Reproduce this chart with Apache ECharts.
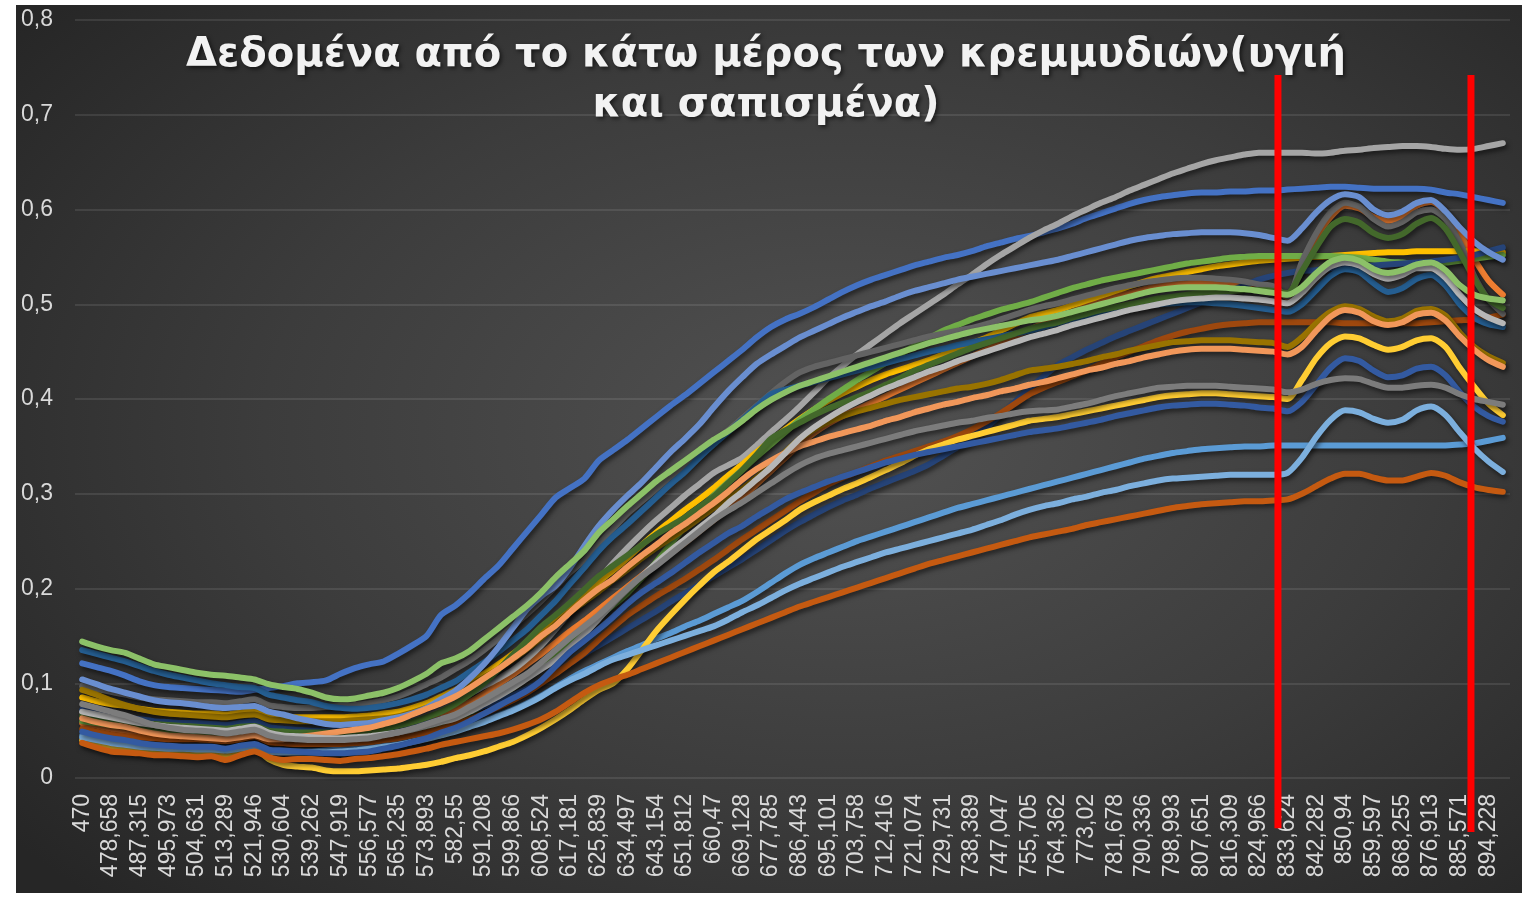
<!DOCTYPE html>
<html>
<head>
<meta charset="utf-8">
<title>Δεδομένα από το κάτω μέρος των κρεμμυδιών</title>
<script src="https://cdn.jsdelivr.net/npm/echarts@6.0.0/dist/echarts.min.js"></script>
<style>
    html, body {
        margin: 0;
        padding: 0;
        background: #fff;
    }
    #frame {
        position: absolute;
        left: 16px;
        top: 5px;
        width: 1506px;
        height: 888px;
        background: radial-gradient(ellipse 70% 75% at 55% 48%, #525252 0%, #3c3c3c 55%, #262626 100%);
    }
    #main {
        position: absolute;
        left: 0;
        top: 0;
        width: 1532px;
        height: 897px;
    }
</style>
</head>
<body>
<div id="frame"></div>
<div id="main"></div>
<script>
// wavelengths (nm), every second one is shown on the axis
var wavelengths = [
    '470', '474,329', '478,658', '482,987', '487,315', '491,644', '495,973', '500,302', '504,631', '508,96',
    '513,289', '517,617', '521,946', '526,275', '530,604', '534,933', '539,262', '543,591', '547,919', '552,248',
    '556,577', '560,906', '565,235', '569,564', '573,893', '578,221', '582,55', '586,879', '591,208', '595,537',
    '599,866', '604,195', '608,524', '612,852', '617,181', '621,51', '625,839', '630,168', '634,497', '638,826',
    '643,154', '647,483', '651,812', '656,141', '660,47', '664,799', '669,128', '673,457', '677,785', '682,114',
    '686,443', '690,772', '695,101', '699,43', '703,758', '708,087', '712,416', '716,745', '721,074', '725,403',
    '729,731', '734,06', '738,389', '742,718', '747,047', '751,376', '755,705', '760,034', '764,362', '768,691',
    '773,02', '777,349', '781,678', '786,007', '790,336', '794,664', '798,993', '803,322', '807,651', '811,98',
    '816,309', '820,638', '824,966', '829,295', '833,624', '837,953', '842,282', '846,611', '850,94', '855,269',
    '859,597', '863,926', '868,255', '872,584', '876,913', '881,242', '885,571', '889,9', '894,228', '898,557'
];

var blue = [
    0.121, 0.117, 0.113, 0.108, 0.102, 0.098, 0.096, 0.095, 0.094, 0.093,
    0.092, 0.091, 0.093, 0.095, 0.097, 0.100, 0.101, 0.103, 0.110, 0.116,
    0.120, 0.123, 0.131, 0.140, 0.150, 0.172, 0.182, 0.195, 0.210, 0.224,
    0.242, 0.260, 0.278, 0.296, 0.306, 0.316, 0.335, 0.346, 0.357, 0.369,
    0.381, 0.393, 0.404, 0.416, 0.428, 0.440, 0.452, 0.465, 0.476, 0.484,
    0.490, 0.497, 0.505, 0.513, 0.520, 0.526, 0.531, 0.536, 0.541, 0.545,
    0.549, 0.552, 0.556, 0.561, 0.565, 0.569, 0.572, 0.576, 0.580, 0.585,
    0.591, 0.596, 0.601, 0.606, 0.610, 0.613, 0.615, 0.617, 0.618, 0.618,
    0.619, 0.619, 0.620, 0.620, 0.621, 0.622, 0.623, 0.624, 0.624, 0.623,
    0.622, 0.622, 0.622, 0.622, 0.621, 0.618, 0.616, 0.613, 0.610, 0.607
];
var orange = [
    0.058, 0.055, 0.052, 0.050, 0.047, 0.045, 0.044, 0.043, 0.042, 0.042,
    0.040, 0.042, 0.045, 0.039, 0.037, 0.036, 0.036, 0.036, 0.037, 0.038,
    0.040, 0.043, 0.047, 0.052, 0.058, 0.065, 0.072, 0.080, 0.089, 0.099,
    0.109, 0.120, 0.131, 0.143, 0.155, 0.166, 0.178, 0.190, 0.202, 0.214,
    0.226, 0.237, 0.248, 0.260, 0.272, 0.284, 0.296, 0.310, 0.324, 0.338,
    0.352, 0.364, 0.374, 0.382, 0.389, 0.396, 0.403, 0.410, 0.417, 0.424,
    0.431, 0.438, 0.445, 0.452, 0.459, 0.466, 0.473, 0.480, 0.486, 0.492,
    0.498, 0.503, 0.508, 0.512, 0.516, 0.519, 0.521, 0.522, 0.523, 0.523,
    0.522, 0.521, 0.519, 0.517, 0.507, 0.541, 0.570, 0.592, 0.604, 0.601,
    0.592, 0.588, 0.593, 0.604, 0.608, 0.597, 0.575, 0.548, 0.525, 0.510
];
var gray = [
    0.070, 0.066, 0.063, 0.060, 0.057, 0.054, 0.052, 0.051, 0.050, 0.050,
    0.048, 0.050, 0.052, 0.047, 0.045, 0.045, 0.045, 0.045, 0.046, 0.048,
    0.050, 0.053, 0.057, 0.062, 0.068, 0.075, 0.082, 0.089, 0.097, 0.105,
    0.114, 0.126, 0.140, 0.157, 0.175, 0.193, 0.210, 0.227, 0.243, 0.258,
    0.272, 0.285, 0.298, 0.310, 0.322, 0.330, 0.338, 0.351, 0.365, 0.378,
    0.392, 0.407, 0.422, 0.435, 0.447, 0.458, 0.469, 0.480, 0.490, 0.500,
    0.510, 0.521, 0.531, 0.542, 0.552, 0.561, 0.570, 0.578, 0.585, 0.593,
    0.600, 0.607, 0.613, 0.620, 0.626, 0.632, 0.638, 0.643, 0.648, 0.652,
    0.655, 0.658, 0.660, 0.660, 0.660, 0.660, 0.659, 0.660, 0.662, 0.663,
    0.665, 0.666, 0.667, 0.667, 0.666, 0.664, 0.663, 0.664, 0.667, 0.670
];
var gold = [
    0.085, 0.081, 0.078, 0.076, 0.073, 0.071, 0.070, 0.069, 0.068, 0.068,
    0.067, 0.069, 0.071, 0.066, 0.065, 0.064, 0.064, 0.064, 0.064, 0.065,
    0.066, 0.068, 0.070, 0.074, 0.079, 0.086, 0.093, 0.101, 0.110, 0.120,
    0.131, 0.143, 0.155, 0.168, 0.181, 0.194, 0.207, 0.219, 0.232, 0.246,
    0.259, 0.271, 0.283, 0.294, 0.306, 0.319, 0.331, 0.344, 0.356, 0.368,
    0.379, 0.389, 0.398, 0.406, 0.413, 0.420, 0.426, 0.431, 0.436, 0.441,
    0.447, 0.453, 0.459, 0.465, 0.472, 0.479, 0.486, 0.490, 0.494, 0.499,
    0.504, 0.509, 0.514, 0.519, 0.524, 0.528, 0.531, 0.534, 0.537, 0.540,
    0.542, 0.544, 0.546, 0.547, 0.548, 0.549, 0.550, 0.551, 0.552, 0.553,
    0.554, 0.555, 0.555, 0.556, 0.556, 0.556, 0.556, 0.556, 0.555, 0.555
];
var skyBlue = [
    0.045, 0.042, 0.039, 0.037, 0.035, 0.034, 0.033, 0.032, 0.032, 0.032,
    0.030, 0.033, 0.035, 0.029, 0.028, 0.028, 0.028, 0.029, 0.030, 0.031,
    0.033, 0.035, 0.037, 0.040, 0.043, 0.047, 0.050, 0.055, 0.060, 0.066,
    0.072, 0.079, 0.087, 0.096, 0.105, 0.113, 0.120, 0.127, 0.134, 0.140,
    0.147, 0.153, 0.160, 0.166, 0.173, 0.180, 0.187, 0.196, 0.206, 0.216,
    0.225, 0.232, 0.238, 0.244, 0.250, 0.255, 0.260, 0.265, 0.270, 0.275,
    0.280, 0.285, 0.289, 0.293, 0.297, 0.301, 0.305, 0.309, 0.313, 0.317,
    0.321, 0.325, 0.329, 0.333, 0.337, 0.340, 0.343, 0.345, 0.347, 0.348,
    0.349, 0.350, 0.350, 0.351, 0.351, 0.351, 0.351, 0.351, 0.351, 0.351,
    0.351, 0.351, 0.351, 0.351, 0.351, 0.351, 0.352, 0.353, 0.356, 0.359
];
var green = [
    0.060, 0.058, 0.056, 0.054, 0.052, 0.051, 0.050, 0.049, 0.048, 0.048,
    0.047, 0.048, 0.050, 0.045, 0.044, 0.043, 0.043, 0.043, 0.043, 0.044,
    0.045, 0.046, 0.048, 0.051, 0.054, 0.058, 0.062, 0.069, 0.077, 0.086,
    0.095, 0.106, 0.118, 0.130, 0.143, 0.157, 0.170, 0.182, 0.195, 0.211,
    0.228, 0.247, 0.265, 0.282, 0.298, 0.312, 0.325, 0.339, 0.352, 0.365,
    0.378, 0.389, 0.400, 0.410, 0.420, 0.429, 0.438, 0.447, 0.456, 0.464,
    0.472, 0.478, 0.484, 0.489, 0.494, 0.498, 0.502, 0.507, 0.512, 0.517,
    0.521, 0.525, 0.528, 0.531, 0.534, 0.537, 0.540, 0.543, 0.545, 0.547,
    0.549, 0.550, 0.551, 0.551, 0.551, 0.551, 0.551, 0.551, 0.550, 0.549,
    0.547, 0.545, 0.544, 0.543, 0.543, 0.544, 0.546, 0.548, 0.550, 0.552
];
var navy = [
    0.072, 0.069, 0.066, 0.064, 0.062, 0.060, 0.059, 0.058, 0.058, 0.057,
    0.056, 0.058, 0.060, 0.054, 0.052, 0.051, 0.050, 0.050, 0.050, 0.050,
    0.051, 0.052, 0.053, 0.055, 0.058, 0.062, 0.066, 0.071, 0.076, 0.081,
    0.087, 0.094, 0.102, 0.111, 0.121, 0.131, 0.140, 0.149, 0.158, 0.167,
    0.176, 0.186, 0.195, 0.204, 0.213, 0.222, 0.231, 0.241, 0.251, 0.261,
    0.270, 0.278, 0.286, 0.293, 0.299, 0.306, 0.312, 0.318, 0.324, 0.331,
    0.340, 0.349, 0.359, 0.370, 0.383, 0.397, 0.411, 0.424, 0.436, 0.444,
    0.452, 0.459, 0.466, 0.472, 0.478, 0.484, 0.490, 0.496, 0.502, 0.508,
    0.514, 0.520, 0.526, 0.530, 0.533, 0.535, 0.536, 0.538, 0.539, 0.540,
    0.541, 0.542, 0.543, 0.544, 0.545, 0.547, 0.549, 0.552, 0.556, 0.560
];
var brown = [
    0.052, 0.049, 0.046, 0.044, 0.043, 0.042, 0.041, 0.041, 0.041, 0.040,
    0.039, 0.041, 0.044, 0.038, 0.037, 0.036, 0.036, 0.036, 0.036, 0.037,
    0.038, 0.040, 0.042, 0.045, 0.048, 0.052, 0.057, 0.062, 0.068, 0.075,
    0.082, 0.090, 0.100, 0.110, 0.121, 0.132, 0.146, 0.159, 0.172, 0.182,
    0.192, 0.201, 0.210, 0.220, 0.230, 0.241, 0.252, 0.262, 0.272, 0.282,
    0.292, 0.301, 0.310, 0.317, 0.323, 0.329, 0.335, 0.340, 0.345, 0.350,
    0.355, 0.361, 0.368, 0.376, 0.385, 0.395, 0.405, 0.412, 0.418, 0.424,
    0.430, 0.437, 0.444, 0.450, 0.456, 0.462, 0.467, 0.471, 0.474, 0.477,
    0.479, 0.480, 0.481, 0.481, 0.481, 0.481, 0.481, 0.481, 0.480, 0.480,
    0.480, 0.480, 0.480, 0.480, 0.481, 0.482, 0.483, 0.484, 0.486, 0.489
];
var darkGray = [
    0.097, 0.094, 0.091, 0.088, 0.085, 0.083, 0.082, 0.081, 0.080, 0.080,
    0.079, 0.081, 0.083, 0.077, 0.075, 0.074, 0.074, 0.075, 0.076, 0.077,
    0.079, 0.082, 0.086, 0.092, 0.099, 0.106, 0.115, 0.124, 0.135, 0.147,
    0.160, 0.173, 0.187, 0.202, 0.217, 0.230, 0.247, 0.263, 0.279, 0.292,
    0.305, 0.318, 0.330, 0.342, 0.355, 0.367, 0.380, 0.393, 0.406, 0.418,
    0.428, 0.434, 0.438, 0.442, 0.446, 0.450, 0.454, 0.458, 0.462, 0.466,
    0.469, 0.472, 0.475, 0.479, 0.484, 0.489, 0.494, 0.498, 0.501, 0.505,
    0.509, 0.513, 0.517, 0.520, 0.523, 0.525, 0.527, 0.528, 0.528, 0.527,
    0.526, 0.524, 0.521, 0.519, 0.508, 0.545, 0.575, 0.597, 0.607, 0.603,
    0.590, 0.582, 0.587, 0.597, 0.600, 0.590, 0.565, 0.530, 0.505, 0.490
];
var olive = [
    0.093, 0.088, 0.082, 0.077, 0.073, 0.070, 0.068, 0.067, 0.066, 0.065,
    0.064, 0.066, 0.067, 0.062, 0.061, 0.060, 0.060, 0.060, 0.060, 0.061,
    0.062, 0.063, 0.065, 0.069, 0.074, 0.080, 0.088, 0.097, 0.106, 0.115,
    0.125, 0.136, 0.148, 0.162, 0.175, 0.186, 0.197, 0.209, 0.220, 0.232,
    0.243, 0.253, 0.263, 0.274, 0.285, 0.295, 0.305, 0.317, 0.330, 0.344,
    0.358, 0.368, 0.376, 0.382, 0.387, 0.391, 0.395, 0.399, 0.402, 0.405,
    0.408, 0.411, 0.413, 0.416, 0.420, 0.425, 0.430, 0.432, 0.434, 0.437,
    0.440, 0.444, 0.447, 0.451, 0.454, 0.457, 0.460, 0.461, 0.462, 0.462,
    0.462, 0.461, 0.460, 0.459, 0.455, 0.465, 0.480, 0.492, 0.498, 0.495,
    0.487, 0.482, 0.485, 0.493, 0.495, 0.488, 0.470, 0.455, 0.445, 0.438
];
var steelBlue = [
    0.135, 0.131, 0.127, 0.123, 0.118, 0.113, 0.109, 0.106, 0.103, 0.100,
    0.098, 0.096, 0.095, 0.088, 0.085, 0.082, 0.080, 0.076, 0.074, 0.073,
    0.074, 0.076, 0.079, 0.083, 0.088, 0.095, 0.102, 0.112, 0.122, 0.133,
    0.145, 0.157, 0.172, 0.187, 0.205, 0.222, 0.240, 0.255, 0.268, 0.282,
    0.296, 0.310, 0.323, 0.338, 0.352, 0.365, 0.378, 0.392, 0.405, 0.410,
    0.414, 0.418, 0.422, 0.426, 0.430, 0.434, 0.438, 0.442, 0.446, 0.450,
    0.453, 0.457, 0.460, 0.463, 0.466, 0.469, 0.472, 0.476, 0.480, 0.484,
    0.487, 0.490, 0.493, 0.496, 0.498, 0.500, 0.501, 0.502, 0.502, 0.501,
    0.500, 0.498, 0.496, 0.494, 0.492, 0.500, 0.515, 0.530, 0.537, 0.534,
    0.522, 0.513, 0.517, 0.527, 0.531, 0.520, 0.500, 0.486, 0.479, 0.476
];
var darkGreen = [
    0.066, 0.064, 0.062, 0.060, 0.058, 0.057, 0.056, 0.055, 0.054, 0.053,
    0.052, 0.054, 0.055, 0.050, 0.049, 0.048, 0.048, 0.048, 0.048, 0.049,
    0.050, 0.052, 0.055, 0.059, 0.064, 0.070, 0.078, 0.088, 0.100, 0.114,
    0.130, 0.145, 0.160, 0.172, 0.185, 0.199, 0.213, 0.224, 0.235, 0.246,
    0.257, 0.266, 0.275, 0.286, 0.297, 0.311, 0.325, 0.341, 0.358, 0.367,
    0.375, 0.383, 0.390, 0.396, 0.402, 0.408, 0.415, 0.422, 0.430, 0.436,
    0.442, 0.448, 0.454, 0.459, 0.464, 0.469, 0.474, 0.478, 0.481, 0.486,
    0.490, 0.494, 0.497, 0.500, 0.503, 0.506, 0.508, 0.510, 0.512, 0.513,
    0.514, 0.515, 0.515, 0.514, 0.512, 0.535, 0.560, 0.582, 0.590, 0.586,
    0.575, 0.570, 0.574, 0.585, 0.591, 0.580, 0.555, 0.527, 0.505, 0.496
];
var lightBlue = [
    0.104, 0.099, 0.094, 0.090, 0.086, 0.082, 0.080, 0.079, 0.077, 0.075,
    0.074, 0.075, 0.076, 0.070, 0.067, 0.063, 0.060, 0.057, 0.056, 0.057,
    0.058, 0.061, 0.064, 0.068, 0.074, 0.083, 0.092, 0.105, 0.120, 0.138,
    0.158, 0.178, 0.192, 0.203, 0.222, 0.245, 0.266, 0.283, 0.298, 0.312,
    0.328, 0.344, 0.358, 0.373, 0.391, 0.408, 0.423, 0.437, 0.447, 0.456,
    0.465, 0.472, 0.479, 0.486, 0.492, 0.498, 0.503, 0.509, 0.514, 0.518,
    0.522, 0.526, 0.529, 0.532, 0.535, 0.538, 0.541, 0.544, 0.547, 0.551,
    0.555, 0.559, 0.563, 0.567, 0.570, 0.572, 0.574, 0.575, 0.576, 0.576,
    0.576, 0.575, 0.573, 0.570, 0.567, 0.580, 0.597, 0.610, 0.616, 0.613,
    0.600, 0.594, 0.598, 0.607, 0.610, 0.598, 0.581, 0.566, 0.555, 0.547
];
var lightOrange = [
    0.063, 0.059, 0.056, 0.054, 0.050, 0.047, 0.045, 0.044, 0.043, 0.042,
    0.041, 0.043, 0.045, 0.041, 0.041, 0.043, 0.045, 0.047, 0.049, 0.051,
    0.053, 0.057, 0.061, 0.067, 0.073, 0.079, 0.086, 0.095, 0.105, 0.115,
    0.126, 0.137, 0.150, 0.161, 0.175, 0.188, 0.200, 0.210, 0.223, 0.235,
    0.246, 0.258, 0.268, 0.279, 0.290, 0.302, 0.315, 0.326, 0.335, 0.343,
    0.350, 0.355, 0.360, 0.364, 0.368, 0.372, 0.377, 0.381, 0.386, 0.390,
    0.394, 0.397, 0.401, 0.404, 0.408, 0.411, 0.415, 0.418, 0.422, 0.426,
    0.430, 0.433, 0.437, 0.440, 0.444, 0.447, 0.450, 0.452, 0.453, 0.453,
    0.453, 0.452, 0.451, 0.450, 0.447, 0.455, 0.472, 0.487, 0.494, 0.491,
    0.482, 0.478, 0.481, 0.489, 0.491, 0.483, 0.466, 0.452, 0.441, 0.434
];
var lightGray = [
    0.070, 0.067, 0.064, 0.061, 0.058, 0.056, 0.054, 0.053, 0.052, 0.051,
    0.050, 0.052, 0.054, 0.048, 0.045, 0.044, 0.043, 0.042, 0.042, 0.043,
    0.044, 0.046, 0.048, 0.051, 0.055, 0.059, 0.063, 0.070, 0.078, 0.086,
    0.095, 0.105, 0.115, 0.125, 0.138, 0.152, 0.168, 0.184, 0.199, 0.213,
    0.227, 0.240, 0.252, 0.264, 0.276, 0.290, 0.302, 0.315, 0.328, 0.343,
    0.358, 0.370, 0.380, 0.389, 0.397, 0.404, 0.411, 0.417, 0.423, 0.429,
    0.434, 0.440, 0.445, 0.450, 0.455, 0.460, 0.465, 0.469, 0.473, 0.478,
    0.482, 0.486, 0.490, 0.494, 0.497, 0.500, 0.503, 0.505, 0.506, 0.507,
    0.507, 0.506, 0.505, 0.503, 0.501, 0.512, 0.528, 0.540, 0.544, 0.541,
    0.532, 0.527, 0.531, 0.538, 0.538, 0.528, 0.510, 0.495, 0.486, 0.480
];
var lightGold = [
    0.040, 0.036, 0.033, 0.031, 0.029, 0.028, 0.027, 0.026, 0.025, 0.026,
    0.023, 0.027, 0.031, 0.020, 0.014, 0.012, 0.011, 0.008, 0.007, 0.007,
    0.008, 0.009, 0.010, 0.012, 0.014, 0.017, 0.021, 0.024, 0.028, 0.033,
    0.038, 0.045, 0.053, 0.062, 0.072, 0.083, 0.093, 0.100, 0.115, 0.135,
    0.155, 0.172, 0.188, 0.203, 0.217, 0.228, 0.240, 0.252, 0.262, 0.272,
    0.283, 0.291, 0.298, 0.305, 0.311, 0.318, 0.325, 0.332, 0.340, 0.347,
    0.352, 0.357, 0.361, 0.365, 0.369, 0.373, 0.377, 0.379, 0.381, 0.384,
    0.387, 0.390, 0.393, 0.396, 0.399, 0.402, 0.404, 0.405, 0.406, 0.406,
    0.405, 0.404, 0.403, 0.402, 0.400, 0.420, 0.443, 0.459, 0.466, 0.464,
    0.457, 0.452, 0.455, 0.462, 0.464, 0.455, 0.433, 0.413, 0.395, 0.383
];
var paleBlue = [
    0.043, 0.040, 0.037, 0.035, 0.033, 0.032, 0.031, 0.031, 0.030, 0.030,
    0.029, 0.031, 0.033, 0.028, 0.027, 0.027, 0.027, 0.027, 0.028, 0.029,
    0.031, 0.033, 0.035, 0.038, 0.041, 0.045, 0.049, 0.054, 0.059, 0.065,
    0.071, 0.078, 0.086, 0.095, 0.103, 0.110, 0.118, 0.125, 0.130, 0.135,
    0.140, 0.145, 0.150, 0.155, 0.160, 0.167, 0.175, 0.182, 0.190, 0.198,
    0.205, 0.211, 0.217, 0.223, 0.228, 0.233, 0.238, 0.242, 0.246, 0.250,
    0.254, 0.258, 0.262, 0.267, 0.272, 0.278, 0.283, 0.287, 0.290, 0.294,
    0.297, 0.301, 0.304, 0.308, 0.311, 0.314, 0.316, 0.317, 0.318, 0.319,
    0.320, 0.320, 0.320, 0.320, 0.322, 0.338, 0.360, 0.378, 0.388, 0.386,
    0.379, 0.375, 0.378, 0.388, 0.392, 0.383, 0.365, 0.348, 0.334, 0.323
];
var lightGreen = [
    0.144, 0.139, 0.135, 0.132, 0.126, 0.120, 0.117, 0.114, 0.111, 0.109,
    0.108, 0.106, 0.104, 0.099, 0.096, 0.094, 0.090, 0.085, 0.083, 0.084,
    0.087, 0.090, 0.095, 0.102, 0.110, 0.121, 0.126, 0.134, 0.146, 0.158,
    0.170, 0.182, 0.196, 0.212, 0.226, 0.240, 0.259, 0.273, 0.287, 0.300,
    0.313, 0.324, 0.335, 0.346, 0.357, 0.366, 0.377, 0.389, 0.399, 0.407,
    0.414, 0.419, 0.424, 0.429, 0.434, 0.439, 0.444, 0.449, 0.454, 0.459,
    0.463, 0.467, 0.471, 0.474, 0.477, 0.480, 0.483, 0.485, 0.488, 0.492,
    0.496, 0.500, 0.504, 0.508, 0.512, 0.515, 0.517, 0.518, 0.518, 0.518,
    0.517, 0.516, 0.514, 0.512, 0.510, 0.518, 0.533, 0.545, 0.549, 0.546,
    0.537, 0.533, 0.536, 0.542, 0.544, 0.536, 0.520, 0.510, 0.506, 0.504
];
var midBlue = [
    0.049, 0.045, 0.042, 0.040, 0.037, 0.035, 0.034, 0.033, 0.033, 0.033,
    0.031, 0.034, 0.036, 0.030, 0.029, 0.028, 0.027, 0.026, 0.026, 0.027,
    0.028, 0.031, 0.034, 0.038, 0.042, 0.048, 0.053, 0.060, 0.068, 0.076,
    0.084, 0.092, 0.103, 0.118, 0.133, 0.145, 0.157, 0.170, 0.184, 0.196,
    0.206, 0.216, 0.227, 0.238, 0.248, 0.258, 0.266, 0.276, 0.285, 0.294,
    0.301, 0.307, 0.313, 0.318, 0.323, 0.328, 0.333, 0.337, 0.341, 0.344,
    0.347, 0.350, 0.353, 0.356, 0.359, 0.362, 0.365, 0.367, 0.369, 0.372,
    0.375, 0.378, 0.382, 0.385, 0.388, 0.391, 0.393, 0.394, 0.395, 0.395,
    0.394, 0.393, 0.391, 0.390, 0.387, 0.397, 0.415, 0.433, 0.443, 0.440,
    0.430, 0.423, 0.425, 0.432, 0.434, 0.425, 0.407, 0.392, 0.382, 0.376
];
var darkOrange = [
    0.037, 0.032, 0.028, 0.027, 0.026, 0.024, 0.024, 0.023, 0.022, 0.023,
    0.019, 0.024, 0.028, 0.022, 0.019, 0.020, 0.020, 0.019, 0.018, 0.020,
    0.021, 0.023, 0.025, 0.028, 0.031, 0.035, 0.038, 0.041, 0.044, 0.047,
    0.051, 0.056, 0.062, 0.070, 0.080, 0.090, 0.098, 0.104, 0.109, 0.115,
    0.121, 0.127, 0.133, 0.139, 0.145, 0.151, 0.157, 0.163, 0.169, 0.175,
    0.181, 0.186, 0.191, 0.196, 0.201, 0.206, 0.211, 0.216, 0.221, 0.226,
    0.230, 0.234, 0.238, 0.242, 0.246, 0.250, 0.254, 0.257, 0.260, 0.263,
    0.267, 0.270, 0.273, 0.276, 0.279, 0.282, 0.285, 0.287, 0.289, 0.290,
    0.291, 0.292, 0.292, 0.293, 0.294, 0.300, 0.308, 0.316, 0.321, 0.321,
    0.317, 0.314, 0.314, 0.318, 0.322, 0.319, 0.312, 0.307, 0.304, 0.302
];
var midGray = [
    0.078, 0.074, 0.070, 0.066, 0.061, 0.056, 0.053, 0.051, 0.050, 0.049,
    0.047, 0.049, 0.051, 0.045, 0.042, 0.041, 0.040, 0.040, 0.040, 0.041,
    0.042, 0.045, 0.048, 0.052, 0.057, 0.062, 0.067, 0.075, 0.083, 0.092,
    0.101, 0.110, 0.122, 0.135, 0.148, 0.160, 0.172, 0.186, 0.200, 0.213,
    0.224, 0.236, 0.248, 0.260, 0.272, 0.282, 0.291, 0.301, 0.311, 0.321,
    0.330, 0.337, 0.342, 0.346, 0.350, 0.354, 0.358, 0.362, 0.366, 0.369,
    0.372, 0.375, 0.377, 0.380, 0.382, 0.385, 0.387, 0.388, 0.389, 0.392,
    0.395, 0.399, 0.403, 0.406, 0.409, 0.412, 0.413, 0.414, 0.414, 0.414,
    0.413, 0.412, 0.411, 0.410, 0.407, 0.410, 0.416, 0.420, 0.422, 0.421,
    0.416, 0.412, 0.412, 0.414, 0.415, 0.412, 0.405, 0.400, 0.397, 0.394
];

// drawing order follows the spreadsheet series order
var lines = [
    { data: blue, color: '#4472C4' },
    { data: orange, color: '#ED7D31' },
    { data: gray, color: '#A5A5A5' },
    { data: gold, color: '#FFC000' },
    { data: skyBlue, color: '#5B9BD5' },
    { data: green, color: '#70AD47' },
    { data: navy, color: '#264478' },
    { data: brown, color: '#9E480E' },
    { data: darkGray, color: '#636363' },
    { data: olive, color: '#997300' },
    { data: steelBlue, color: '#255E91' },
    { data: darkGreen, color: '#43682B' },
    { data: lightBlue, color: '#698ED0' },
    { data: lightOrange, color: '#F1975A' },
    { data: lightGray, color: '#B7B7B7' },
    { data: lightGold, color: '#FFCD33' },
    { data: paleBlue, color: '#7CAFDD' },
    { data: lightGreen, color: '#8CC168' },
    { data: midBlue, color: '#335AA1' },
    { data: darkOrange, color: '#C55A11' },
    { data: midGray, color: '#7C7C7C' }
];

// the two hand drawn red markers: category position and value span
var markers = [
    { at: 83.33, top: 0.742, bottom: -0.053 },
    { at: 96.78, top: 0.742, bottom: -0.057 }
];

var myChart = echarts.init(document.getElementById('main'), null, { renderer: 'canvas' });

var option = {
    animation: false,
    title: {
        text: 'Δεδομένα από το κάτω μέρος των κρεμμυδιών(υγιή\nκαι σαπισμένα)',
        left: 'center',
        top: 26,
        textStyle: {
            color: '#f2f2f2',
            fontSize: 40,
            fontWeight: 'bold',
            fontFamily: 'DejaVu Sans',
            lineHeight: 50,
            align: 'center',
            textShadowColor: 'rgba(0,0,0,0.6)',
            textShadowBlur: 4,
            textShadowOffsetX: 2,
            textShadowOffsetY: 2
        }
    },
    grid: {
        left: 75,
        right: 22,
        top: 20,
        bottom: 119
    },
    xAxis: {
        type: 'category',
        data: wavelengths,
        boundaryGap: true,
        axisLine: { show: false },
        axisTick: { show: false },
        axisLabel: {
            interval: 1,
            rotate: 90,
            margin: 16,
            color: '#d9d9d9',
            fontSize: 23,
            fontFamily: 'Liberation Sans'
        }
    },
    yAxis: {
        type: 'value',
        min: 0,
        max: 0.8,
        interval: 0.1,
        axisLine: { show: false },
        axisTick: { show: false },
        axisLabel: {
            margin: 22,
            color: '#d9d9d9',
            fontSize: 23,
            fontFamily: 'Liberation Sans',
            formatter: function (v) {
                return v === 0 ? '0' : v.toFixed(1).replace('.', ',');
            }
        },
        splitLine: {
            lineStyle: { color: 'rgba(255,255,255,0.13)', width: 1.5 }
        }
    },
    series: lines.map(function (s) {
        return {
            type: 'line',
            data: s.data,
            symbol: 'none',
            smooth: 0.25,
            emphasis: { disabled: true },
            itemStyle: { color: s.color },
            lineStyle: {
                color: s.color,
                width: 6,
                cap: 'round',
                join: 'round',
                shadowColor: 'rgba(0,0,0,0.55)',
                shadowBlur: 5,
                shadowOffsetX: 2,
                shadowOffsetY: 3
            }
        };
    })
};

myChart.setOption(option);

// place the red markers using the axes
function toPixel(pos, v) {
    var i = Math.floor(pos);
    var f = pos - i;
    var a = myChart.convertToPixel({ gridIndex: 0 }, [i, v]);
    var b = myChart.convertToPixel({ gridIndex: 0 }, [i + 1, v]);
    return [a[0] + (b[0] - a[0]) * f, a[1]];
}
myChart.setOption({
    graphic: markers.map(function (m) {
        var p1 = toPixel(m.at, m.top);
        var p2 = toPixel(m.at, m.bottom);
        return {
            type: 'line',
            z: 100,
            shape: { x1: p1[0], y1: p1[1], x2: p2[0], y2: p2[1] },
            style: { stroke: '#ff0000', lineWidth: 7 }
        };
    })
});
</script>
</body>
</html>
